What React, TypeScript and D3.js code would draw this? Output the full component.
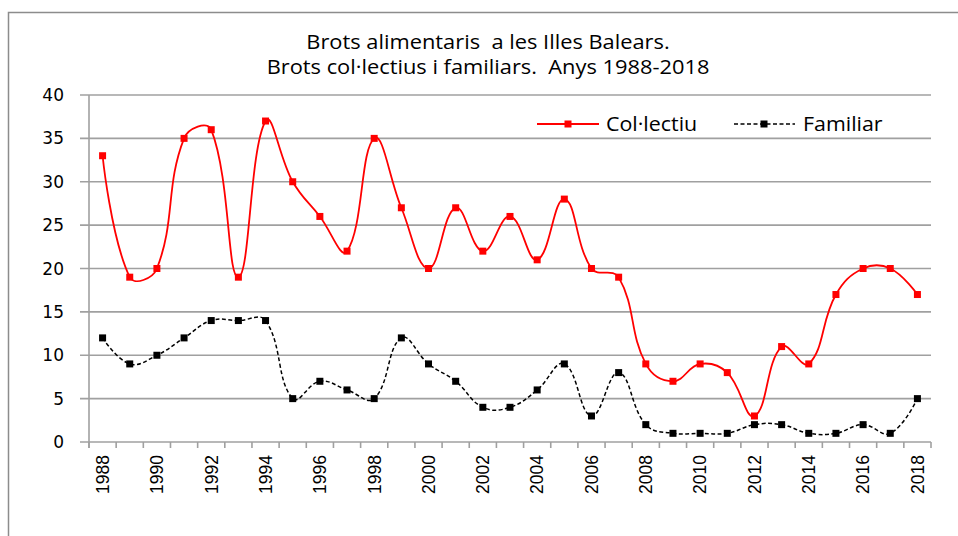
import React from "react";
import * as d3 from "d3";

const years = d3.range(1988, 2019);
const colectiu = [33, 19, 20, 35, 36, 19, 37, 30, 26, 22, 35, 27, 20, 27, 22, 26, 21, 28, 20, 19, 9, 7, 9, 8, 3, 11, 9, 17, 20, 20, 17];
const familiar = [12, 9, 10, 12, 14, 14, 14, 5, 7, 6, 5, 12, 9, 7, 4, 4, 6, 9, 3, 8, 2, 1, 1, 1, 2, 2, 1, 1, 2, 1, 5];
const yTicks = [0, 5, 10, 15, 20, 25, 30, 35, 40];
const xLabelYears = years.filter((y) => (y - 1988) % 2 === 0);
const titleLines = ["Brots alimentaris  a les Illes Balears.", "Brots col·lectius i familiars.  Anys 1988-2018"];
const seriesNames = ["Col·lectiu", "Familiar"];

const W = 958;
const H = 536;
const left = 89;
const right = 931;
const top = 95;
const bottom = 442;
const SMOOTH_K = 0.42;

// Excel-like smoothed line: Bezier with chord-length weighted tangents
function smoothPath(pts: [number, number][]): string {
  const p = d3.path();
  const n = pts.length;
  const tangentCtrl = (i: number) => {
    if (i === 0 || i === n - 1) return { inn: pts[i], out: pts[i] };
    const [x0, y0] = pts[i - 1];
    const [x1, y1] = pts[i];
    const [x2, y2] = pts[i + 1];
    const d1 = Math.hypot(x1 - x0, y1 - y0);
    const d2 = Math.hypot(x2 - x1, y2 - y1);
    const tx = x2 - x0;
    const ty = y2 - y0;
    const s = d1 + d2 || 1;
    return {
      inn: [x1 - (tx * d1 * SMOOTH_K) / s, y1 - (ty * d1 * SMOOTH_K) / s] as [number, number],
      out: [x1 + (tx * d2 * SMOOTH_K) / s, y1 + (ty * d2 * SMOOTH_K) / s] as [number, number],
    };
  };
  const ctrls = pts.map((_, i) => tangentCtrl(i));
  p.moveTo(pts[0][0], pts[0][1]);
  for (let i = 0; i < n - 1; i++) {
    const c1 = ctrls[i].out;
    const c2 = ctrls[i + 1].inn;
    p.bezierCurveTo(c1[0], c1[1], c2[0], c2[1], pts[i + 1][0], pts[i + 1][1]);
  }
  return p.toString();
}

export default function App() {
  const x = d3.scaleBand<number>().domain(years).range([left, right]).padding(0);
  const y = d3.scaleLinear().domain([0, 40]).range([bottom, top]);
  const cx = (yr: number) => (x(yr) as number) + x.bandwidth() / 2;
  const toPts = (vals: number[]) => vals.map((v, i) => [cx(years[i]), y(v)] as [number, number]);
  const grid = "#a0a0a0";
  const tickPos = d3.range(years.length + 1).map((i) => left + i * x.bandwidth());
  const ms = 7;

  return (
    <svg width={W} height={H} style={{ position: "absolute", left: 0, top: 0, background: "#fff" }}>
      <rect x={8.5} y={12.5} width={W} height={H} fill="#fff" stroke="#8c8c8c" strokeWidth={1.5} />
      <g fontFamily="'Open Sans'" fontSize={19.5} fill="#000" textAnchor="middle">
        {titleLines.map((t, i) => (
          <text key={i} transform={`translate(488,${49 + i * 25}) scale(1.12,1)`} style={{ whiteSpace: "pre" }}>
            {t}
          </text>
        ))}
      </g>
      {yTicks.map((t) => (
        <line key={t} x1={80} x2={right} y1={y(t)} y2={y(t)} stroke={grid} strokeWidth={1.6} />
      ))}
      <line x1={left} x2={left} y1={top} y2={bottom + 6} stroke={grid} strokeWidth={1.6} />
      {tickPos.map((p, i) => (
        <line key={i} x1={p} x2={p} y1={bottom} y2={bottom + 6} stroke={grid} strokeWidth={1.6} />
      ))}
      <g fontFamily="'DejaVu Sans'" fontSize={17} textAnchor="end">
        {yTicks.map((t) => (
          <text key={t} x={64} y={y(t)} dy="0.36em">
            {t}
          </text>
        ))}
      </g>
      <g fontFamily="'Liberation Sans'" fontSize={17.5} textAnchor="end">
        {xLabelYears.map((yr) => (
          <text key={yr} transform={`translate(${cx(yr)},${455}) rotate(-90)`} dy="0.36em">
            {yr}
          </text>
        ))}
      </g>
      <path d={smoothPath(toPts(colectiu))} fill="none" stroke="#ff0000" strokeWidth={1.8} />
      <path d={smoothPath(toPts(familiar))} fill="none" stroke="#000" strokeWidth={1.5} strokeDasharray="4 2.5" />
      {colectiu.map((v, i) => (
        <rect key={i} x={cx(years[i]) - ms / 2} y={y(v) - ms / 2} width={ms} height={ms} fill="#ff0000" />
      ))}
      {familiar.map((v, i) => (
        <rect key={i} x={cx(years[i]) - ms / 2} y={y(v) - ms / 2} width={ms} height={ms} fill="#000" />
      ))}
      <g fontFamily="'Open Sans'" fontSize={20}>
        <line x1={537} x2={599} y1={124} y2={124} stroke="#ff0000" strokeWidth={1.8} />
        <rect x={568 - ms / 2} y={124 - ms / 2} width={ms} height={ms} fill="#ff0000" />
        <text transform="translate(606,124) scale(1.07,1)" dy="0.36em">
          {seriesNames[0]}
        </text>
        <line x1={734} x2={795} y1={124} y2={124} stroke="#000" strokeWidth={1.5} strokeDasharray="4 2.5" />
        <rect x={764 - ms / 2} y={124 - ms / 2} width={ms} height={ms} fill="#000" />
        <text transform="translate(803,124) scale(1.07,1)" dy="0.36em">
          {seriesNames[1]}
        </text>
      </g>
    </svg>
  );
}
